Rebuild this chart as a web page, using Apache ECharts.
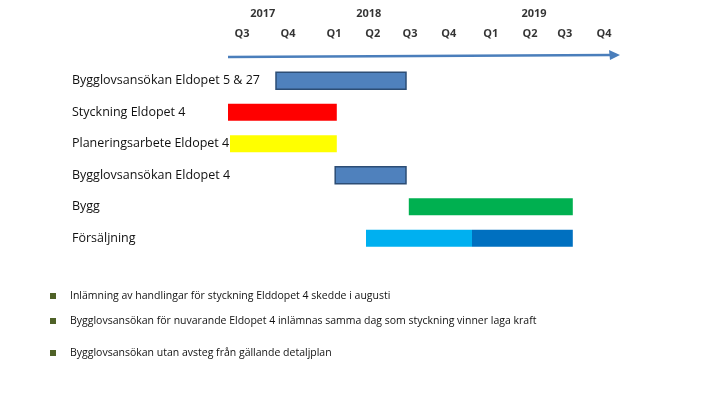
<!DOCTYPE html><html><head><meta charset="utf-8">
<script src="https://cdn.jsdelivr.net/npm/echarts@6/dist/echarts.min.js"></script>
<style>html,body{margin:0;background:#fff}#c{width:715px;height:409px}</style></head><body><div id="c"></div>
<script>
const tasks=["Bygglovsansökan Eldopet 5 & 27","Styckning Eldopet 4","Planeringsarbete Eldopet 4","Bygglovsansökan Eldopet 4","Bygg","Försäljning"];
// [row, start, end] in quarters from start of Q3 2017
const bars=[[0,1.2,4.45],[1,0,2.72],[2,0.05,2.72],[3,2.68,4.45],[4,4.52,8.62],[5,3.45,6.1],[5,6.1,8.62]];
const barColors=["#4f81bd","#ff0000","#ffff00","#4f81bd","#00b050","#00b0f0","#0070c0"];
const barBorders=["#2c4d75",null,null,"#2c4d75",null,null,null];
const quarterLabels=["Q3","Q4","Q1","Q2","Q3","Q4","Q1","Q2","Q3","Q4"];
const quarterPos=[0.35,1.5,2.65,3.62,4.55,5.52,6.57,7.55,8.42,9.4];
const years=["2017","2018","2019"];
const yearPos=[0.87,3.52,7.65];
const notes=["Inlämning av handlingar för styckning Elddopet 4 skedde i augusti","Bygglovsansökan för nuvarande Eldopet 4 inlämnas samma dag som styckning vinner laga kraft","Bygglovsansökan utan avsteg från gällande detaljplan"];
const c=echarts.init(document.getElementById('c'));
const F='"Open Sans",Arial,sans-serif';
c.setOption({animation:false,
grid:[{left:228,width:400,top:65,height:189},{left:228,width:400,top:0,height:60}],
xAxis:[{type:'value',min:0,max:10,show:false,gridIndex:0},{type:'value',min:0,max:10,show:false,gridIndex:1}],
yAxis:[{type:'category',data:tasks,inverse:true,axisLine:{show:false},axisTick:{show:false},splitLine:{show:false},
 axisLabel:{align:'left',margin:156,fontSize:12.5,color:'#111',fontFamily:F},gridIndex:0},
 {type:'value',min:0,max:60,show:false,inverse:true,gridIndex:1}],
graphic:[{type:'line',shape:{x1:228,y1:57,x2:612,y2:55},style:{stroke:'#4a7ebb',lineWidth:2.5}},
 {type:'polygon',shape:{points:[[620,55],[609,50],[610,60]]},style:{fill:'#4a7ebb'}}].concat(
 notes.flatMap((t,i)=>{const y=[296,321,353][i];return [{type:'rect',shape:{x:50,y:y-3,width:6,height:6},style:{fill:'#4f6228'}},
 {type:'text',x:70,y:y,style:{text:t,fontSize:10.5,fontFamily:F,fill:'#111',verticalAlign:'middle'}}]})),
series:[{type:'custom',xAxisIndex:0,yAxisIndex:0,data:bars,renderItem:(p,api)=>{
 const a=api.coord([api.value(1),api.value(0)]),b=api.coord([api.value(2),api.value(0)]);
 const h=17,i=p.dataIndex;
 return {type:'rect',shape:{x:a[0],y:a[1]-h/2,width:b[0]-a[0],height:h},
 style:{fill:barColors[i],stroke:barBorders[i]||null,lineWidth:barBorders[i]?1.5:0}};}},
{type:'scatter',xAxisIndex:1,yAxisIndex:1,symbolSize:0,data:quarterPos.map((x,i)=>({value:[x,34],label:{show:true,formatter:quarterLabels[i]}})),
 label:{position:'inside',fontSize:11,fontWeight:'bold',color:'#000',fontFamily:F}},
{type:'scatter',xAxisIndex:1,yAxisIndex:1,symbolSize:0,data:yearPos.map((x,i)=>({value:[x,14],label:{show:true,formatter:years[i]}})),
 label:{position:'inside',fontSize:11,fontWeight:'bold',color:'#000',fontFamily:F}}]});
</script></body></html>
